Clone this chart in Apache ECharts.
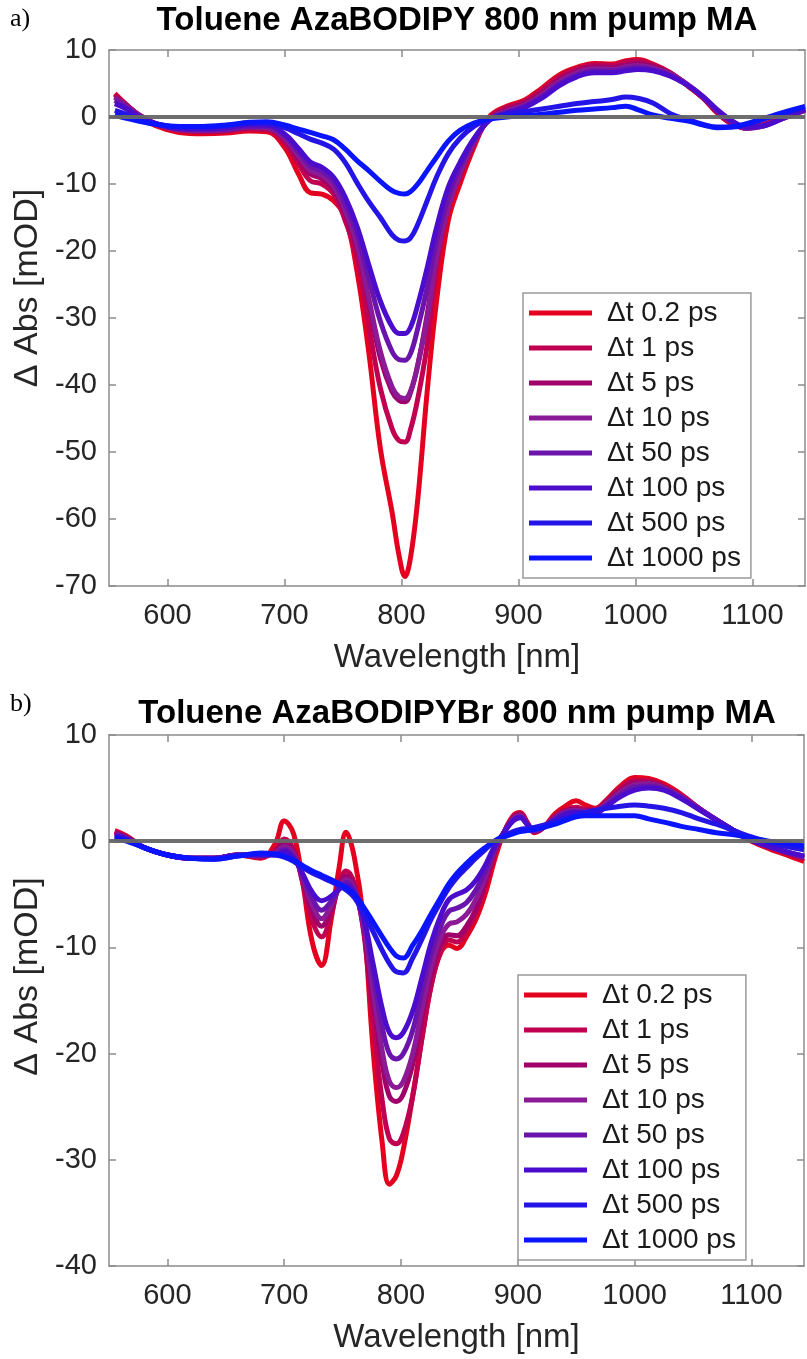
<!DOCTYPE html>
<html>
<head>
<meta charset="utf-8">
<script src="https://cdn.jsdelivr.net/npm/echarts@6/dist/echarts.min.js"></script>
<style>
  html, body { margin: 0; padding: 0; background: #ffffff; }
  #chart { width: 807px; height: 1359px; }
</style>
</head>
<body>
<div id="chart"></div>
<script>
// Pump-probe delays and their trace colours (red = early, blue = late)
const delayLabels = ['Δt 0.2 ps', 'Δt 1 ps', 'Δt 5 ps', 'Δt 10 ps', 'Δt 50 ps', 'Δt 100 ps', 'Δt 500 ps', 'Δt 1000 ps'];
const traceColors = ['#e4001f', '#c00050', '#a0006a', '#8a1a96', '#6a14ac', '#4c0ccc', '#2414e6', '#0a14ff'];
const wavelengthTicks = [600, 700, 800, 900, 1000, 1100];

// (a) AzaBODIPY in toluene — wavelength grid [nm] and ΔAbs [mOD]
const wlA = [555, 565, 575, 590, 610, 630, 650, 670, 685, 700, 712, 722, 732, 742, 752, 762, 772, 782, 792, 798,
  803, 808, 814, 822, 830, 840, 850, 862, 875, 890, 905, 920, 935, 950, 965, 980, 992, 1002, 1015, 1030,
  1045, 1058, 1070, 1082, 1095, 1110, 1125, 1145];
const azaA_0p2 = [3.5, 1.8, 0.3, -1.3, -2.3, -2.5, -2.4, -2.1, -2.2, -4.5, -8.5, -11.3, -11.5, -12.5, -15, -23, -35, -49.5, -59, -65.5,
  -68.6, -65.5, -57, -41, -27.5, -15.5, -10, -4.5, 0, 1.6, 2.5, 4.3, 6.3, 7.4, 8.0, 7.9, 8.4, 8.6, 7.9, 6.6,
  4.6, 2.8, 0.6, -1.0, -1.6, -1.1, -0.2, 1.2];
const azaA_1 = [3.3, 1.8, 0.4, -1.1, -2.0, -2.2, -2.1, -1.8, -1.9, -3.8, -7.0, -9.5, -10.0, -11.5, -15.5, -21, -31, -40.5, -46.5, -48.3,
  -48.5, -46.5, -42, -34, -22.5, -13.5, -8.8, -4, -0.2, 1.4, 2.3, 4.0, 6.0, 7.2, 7.8, 7.7, 8.2, 8.4, 7.8, 6.6,
  4.7, 2.8, 0.7, -0.9, -1.6, -1.1, -0.1, 1.1];
const azaA_5 = [3.0, 1.7, 0.4, -1.0, -1.9, -2.1, -2.0, -1.6, -1.7, -3.3, -6.2, -8.5, -9.2, -10.8, -14.5, -19.5, -27.5, -36, -41, -42.3,
  -42.5, -41, -37, -29.5, -20.5, -13, -8.5, -3.8, -0.3, 1.1, 2.0, 3.6, 5.6, 6.9, 7.5, 7.4, 7.8, 8.0, 7.5, 6.5,
  4.7, 2.9, 0.8, -0.8, -1.7, -1.2, -0.2, 1.0];
const azaA_10 = [2.9, 1.6, 0.3, -1.0, -1.9, -2.0, -1.9, -1.5, -1.6, -3.1, -5.8, -8.0, -8.7, -10.3, -14, -19, -27, -35, -40.3, -41.8,
  -42, -40.8, -37, -30, -21, -13.5, -8.5, -3.8, -0.4, 0.9, 1.8, 3.3, 5.3, 6.6, 7.2, 7.1, 7.5, 7.7, 7.3, 6.4,
  4.8, 3.0, 0.9, -0.7, -1.7, -1.3, -0.3, 1.0];
const azaA_50 = [2.5, 1.4, 0.2, -1.0, -1.8, -1.9, -1.8, -1.4, -1.4, -2.8, -5.2, -7.3, -8.1, -9.6, -13, -17.5, -24, -30.5, -35, -36.2,
  -36.3, -35.2, -31.5, -25.5, -18.5, -12, -7.5, -3.5, -0.5, 0.7, 1.6, 3.0, 5.0, 6.3, 6.9, 6.9, 7.2, 7.4, 7.1, 6.2,
  4.7, 3.0, 1.0, -0.6, -1.6, -1.3, -0.3, 1.1];
const azaA_100 = [2.0, 1.2, 0.1, -1.0, -1.7, -1.8, -1.6, -1.2, -1.2, -2.5, -4.7, -6.7, -7.5, -9.0, -12, -16.3, -22, -27.5, -31.3, -32.3,
  -32.3, -31.3, -28, -22.5, -16.5, -10.5, -6.8, -3.2, -0.5, 0.6, 1.4, 2.8, 4.7, 6.0, 6.6, 6.6, 6.9, 7.1, 6.9, 6.1,
  4.7, 3.0, 1.1, -0.5, -1.5, -1.3, -0.3, 1.2];
const azaA_500 = [1.0, 0.4, -0.3, -1.0, -1.5, -1.5, -1.3, -0.9, -0.9, -1.6, -2.5, -3.3, -3.9, -4.8, -6.8, -9.8, -12.6, -15, -17.6, -18.4,
  -18.5, -18, -16, -12.5, -9, -5.5, -3.2, -1.4, -0.3, 0.4, 0.8, 1.2, 1.6, 2.0, 2.3, 2.6, 3.0, 2.8, 2.1, 0.5,
  -0.4, -1.1, -1.5, -1.5, -1.1, -0.3, 0.5, 1.5];
const azaA_1000 = [0.3, -0.2, -0.6, -1.1, -1.4, -1.4, -1.2, -0.8, -0.7, -1.2, -1.8, -2.3, -2.8, -3.4, -4.8, -6.5, -8.0, -9.6, -11.0, -11.4,
  -11.5, -11.1, -10, -8, -6, -3.6, -2.0, -0.9, -0.3, 0.0, 0.2, 0.4, 0.7, 1.0, 1.2, 1.4, 1.6, 1.1, 0.3, -0.2,
  -0.6, -1.2, -1.6, -1.5, -1.0, -0.2, 0.6, 1.6];

// (b) AzaBODIPYBr in toluene — wavelength grid [nm] and ΔAbs [mOD]
const wlB = [555, 565, 580, 600, 620, 640, 660, 680, 692, 700, 708, 716, 724, 732, 740, 747, 753, 760, 768, 776,
  784, 790, 796, 802, 810, 818, 826, 834, 841, 848, 856, 864, 872, 880, 888, 896, 902, 908, 914, 922,
  932, 942, 950, 958, 966, 976, 988, 1000, 1012, 1025, 1040, 1055, 1070, 1085, 1100, 1115, 1130, 1145];
const azaB_0p2 = [1.0, 0.5, -0.6, -1.3, -1.6, -1.6, -1.3, -1.6, -0.3, 1.9, 0.7, -4.0, -9.5, -11.7, -7.5, -2.5, 0.85, -1.5, -7.5, -19.5,
  -28.5, -32.3, -31.5, -29, -24, -18.5, -13.5, -10.5, -9.8, -10.1, -9.0, -7.4, -5.0, -1.8, 0.8, 2.4, 2.7, 1.8, 0.8, 1.3,
  2.6, 3.4, 3.8, 3.4, 3.1, 3.9, 5.2, 6.0, 5.9, 5.4, 4.4, 3.1, 2.0, 0.9, 0.0, -0.7, -1.3, -1.9];
const azaB_1 = [0.9, 0.4, -0.6, -1.3, -1.6, -1.6, -1.3, -1.5, -0.9, 0.2, -0.8, -4.0, -7.5, -9.0, -7.0, -4.0, -2.8, -4.0, -8.5, -17,
  -24.5, -28.0, -28.5, -27.5, -24, -18.5, -13.5, -10.3, -9.3, -9.5, -8.5, -6.8, -4.2, -1.2, 0.8, 2.3, 2.6, 1.7, 0.9, 1.3,
  2.4, 3.0, 3.2, 3.0, 3.0, 3.8, 5.0, 5.7, 5.7, 5.2, 4.3, 3.1, 2.0, 1.0, 0.1, -0.5, -1.1, -1.6];
const azaB_5 = [0.8, 0.4, -0.6, -1.3, -1.6, -1.6, -1.3, -1.4, -1.0, -0.2, -1.0, -3.7, -6.6, -8.0, -6.5, -4.2, -3.3, -4.3, -8.3, -15,
  -21, -24, -24.5, -23.8, -21, -16.5, -12.5, -9.7, -8.8, -8.9, -8.0, -6.4, -3.9, -1.1, 0.8, 2.2, 2.5, 1.6, 0.9, 1.3,
  2.3, 2.9, 3.0, 2.9, 2.9, 3.7, 4.8, 5.5, 5.5, 5.1, 4.2, 3.1, 2.0, 1.0, 0.1, -0.5, -1.1, -1.6];
const azaB_10 = [0.7, 0.3, -0.6, -1.3, -1.6, -1.6, -1.3, -1.4, -1.1, -0.5, -1.2, -3.5, -6.0, -7.3, -6.1, -4.4, -3.6, -4.5, -8.0, -14,
  -19.8, -22.6, -23.2, -22.6, -20, -15.8, -11.8, -9.0, -7.8, -7.6, -6.9, -5.5, -3.4, -0.9, 0.8, 2.1, 2.4, 1.6, 1.0, 1.3,
  2.2, 2.8, 2.9, 2.8, 2.8, 3.6, 4.6, 5.3, 5.4, 5.0, 4.2, 3.1, 2.0, 1.0, 0.1, -0.5, -1.0, -1.5];
const azaB_50 = [0.6, 0.3, -0.6, -1.3, -1.6, -1.6, -1.3, -1.3, -1.2, -0.8, -1.4, -3.3, -5.4, -6.5, -5.7, -4.5, -3.9, -4.7, -7.5, -12.5,
  -17.5, -20.0, -20.5, -20.0, -17.8, -14, -10.5, -8.0, -6.6, -6.3, -5.8, -4.6, -2.9, -0.7, 0.8, 2.0, 2.3, 1.6, 1.0, 1.3,
  2.1, 2.7, 2.8, 2.7, 2.7, 3.4, 4.4, 5.1, 5.2, 4.9, 4.1, 3.0, 2.0, 1.0, 0.1, -0.5, -1.0, -1.4];
const azaB_100 = [0.5, 0.2, -0.6, -1.3, -1.6, -1.6, -1.3, -1.3, -1.3, -1.0, -1.6, -3.1, -4.8, -5.6, -5.2, -4.5, -4.2, -4.9, -7.2, -11.5,
  -15.8, -18.0, -18.5, -18.0, -16.0, -12.8, -9.5, -7.0, -5.5, -5.0, -4.6, -3.7, -2.3, -0.5, 0.8, 1.9, 2.2, 1.6, 1.1, 1.4,
  2.0, 2.6, 2.7, 2.6, 2.6, 3.3, 4.2, 4.8, 5.0, 4.8, 4.0, 3.0, 2.0, 1.0, 0.1, -0.5, -1.0, -1.4];
const azaB_500 = [0.4, 0.1, -0.6, -1.3, -1.6, -1.7, -1.4, -1.2, -1.3, -1.5, -1.9, -2.5, -3.0, -3.4, -3.8, -4.2, -4.6, -5.3, -6.8, -8.5,
  -10.3, -11.5, -12.3, -12.4, -11.0, -9.2, -7.3, -5.7, -4.4, -3.4, -2.5, -1.6, -0.8, 0.0, 0.5, 0.9, 1.1, 1.2, 1.3, 1.5,
  1.8, 2.2, 2.5, 2.7, 2.9, 3.1, 3.3, 3.4, 3.3, 3.1, 2.7, 2.1, 1.6, 1.0, 0.4, -0.1, -0.5, -0.8];
const azaB_1000 = [0.3, 0.0, -0.6, -1.3, -1.6, -1.7, -1.4, -1.1, -1.2, -1.4, -1.8, -2.3, -2.8, -3.2, -3.6, -4.0, -4.4, -5.0, -6.2, -7.6,
  -9.0, -10.0, -10.8, -11.0, -9.8, -8.4, -6.8, -5.3, -4.0, -3.0, -2.1, -1.3, -0.6, 0.0, 0.4, 0.7, 0.9, 1.0, 1.1, 1.3,
  1.6, 2.0, 2.3, 2.4, 2.4, 2.4, 2.4, 2.4, 2.1, 1.8, 1.4, 1.1, 0.8, 0.6, 0.3, 0.0, -0.2, -0.45];

const tracesA = [azaA_0p2, azaA_1, azaA_5, azaA_10, azaA_50, azaA_100, azaA_500, azaA_1000];
const tracesB = [azaB_0p2, azaB_1, azaB_5, azaB_10, azaB_50, azaB_100, azaB_500, azaB_1000];

const FONT = '"Liberation Sans", Arial, Helvetica, sans-serif';
const AXIS_GREY = '#8c8c8c';
const TEXT_GREY = '#262626';

function xAxesFor(gridIndex) {
  const common = {
    type: 'value', gridIndex: gridIndex, min: 550, max: 1145,
    splitLine: { show: false },
    axisLine: { show: true, onZero: false, lineStyle: { color: AXIS_GREY, width: 1.5 } },
    axisTick: { show: true, inside: true, length: 7, customValues: wavelengthTicks, lineStyle: { color: AXIS_GREY, width: 1.5 } }
  };
  return [
    Object.assign({}, common, {
      position: 'bottom',
      axisLabel: {
        customValues: wavelengthTicks, fontSize: 29, color: TEXT_GREY, fontFamily: FONT, margin: 15,
        formatter: function (v) { return String(v); }
      },
      name: 'Wavelength [nm]', nameLocation: 'middle', nameGap: 55,
      nameTextStyle: { fontSize: 33, color: TEXT_GREY, fontFamily: FONT }
    }),
    Object.assign({}, common, { position: 'top', axisLabel: { show: false } })
  ];
}

// nameLift shifts the rotated axis title upward along the axis
function yAxesFor(gridIndex, yMin, yMax, nameLift) {
  const common = {
    type: 'value', gridIndex: gridIndex, min: yMin, max: yMax, interval: 10,
    splitLine: { show: false },
    axisLine: { show: true, onZero: false, lineStyle: { color: AXIS_GREY, width: 1.5 } },
    axisTick: { show: true, inside: true, length: 7, lineStyle: { color: AXIS_GREY, width: 1.5 } }
  };
  return [
    Object.assign({}, common, {
      position: 'left',
      axisLabel: { fontSize: 29, color: TEXT_GREY, fontFamily: FONT, margin: 12 },
      name: 'Δ Abs [mOD]', nameLocation: 'middle', nameGap: 63, nameRotate: 90,
      nameTextStyle: { fontSize: 34, color: TEXT_GREY, fontFamily: FONT, padding: [0, 0, 0, nameLift * 2] }
    }),
    Object.assign({}, common, { position: 'right', axisLabel: { show: false } })
  ];
}

function tracesFor(wl, traces, xIdx, yIdx) {
  return traces.map(function (vals, i) {
    const s = {
      name: delayLabels[i], type: 'line', xAxisIndex: xIdx, yAxisIndex: yIdx,
      data: wl.map(function (w, k) { return [w, vals[k]]; }),
      showSymbol: false, symbol: 'none', smooth: 0.4, clip: true,
      lineStyle: { width: 5, color: traceColors[i] },
      itemStyle: { color: traceColors[i] },
      emphasis: { disabled: true }
    };
    if (i === traces.length - 1) {
      // zero reference line on top of the traces
      s.markLine = {
        silent: true, symbol: ['none', 'none'], label: { show: false },
        lineStyle: { color: '#666666', width: 4, type: 'solid', opacity: 0.95 },
        data: [{ yAxis: 0 }]
      };
    }
    return s;
  });
}

function legendAt(left, top) {
  return {
    data: delayLabels, orient: 'vertical', left: left, top: top,
    icon: 'rect', itemWidth: 63, itemHeight: 5, itemGap: 7,
    padding: [6, 10, 6, 6],
    backgroundColor: '#ffffff', borderColor: '#9a9a9a', borderWidth: 1.5, borderRadius: 0,
    selectedMode: false,
    textStyle: { fontSize: 28, lineHeight: 28, color: '#1a1a1a', fontFamily: FONT, padding: [0, 0, 0, 10] }
  };
}

const chart = echarts.init(document.getElementById('chart'), null, { renderer: 'canvas' });
chart.setOption({
  animation: false,
  backgroundColor: '#ffffff',
  grid: [
    { left: 109, top: 50, width: 696, height: 536 },
    { left: 109, top: 735, width: 695, height: 531 }
  ],
  xAxis: xAxesFor(0).concat(xAxesFor(1)),
  yAxis: yAxesFor(0, -70, 10, 30).concat(yAxesFor(1, -40, 10, 24)),
  legend: [legendAt(523, 293), legendAt(518, 975)],
  series: tracesFor(wlA, tracesA, 0, 0).concat(tracesFor(wlB, tracesB, 2, 2)),
  graphic: [
    { type: 'text', x: 457, y: 21, style: { text: 'Toluene AzaBODIPY 800 nm pump MA', font: 'bold 33px ' + FONT, fill: '#000', align: 'center', verticalAlign: 'middle' } },
    { type: 'text', x: 457, y: 714, style: { text: 'Toluene AzaBODIPYBr 800 nm pump MA', font: 'bold 33px ' + FONT, fill: '#000', align: 'center', verticalAlign: 'middle' } },
    { type: 'text', x: 10, y: 19, style: { text: 'a)', font: '26px "Liberation Serif", "Times New Roman", serif', fill: '#000', align: 'left', verticalAlign: 'middle' } },
    { type: 'text', x: 10, y: 704, style: { text: 'b)', font: '26px "Liberation Serif", "Times New Roman", serif', fill: '#000', align: 'left', verticalAlign: 'middle' } }
  ]
});
</script>
</body>
</html>
